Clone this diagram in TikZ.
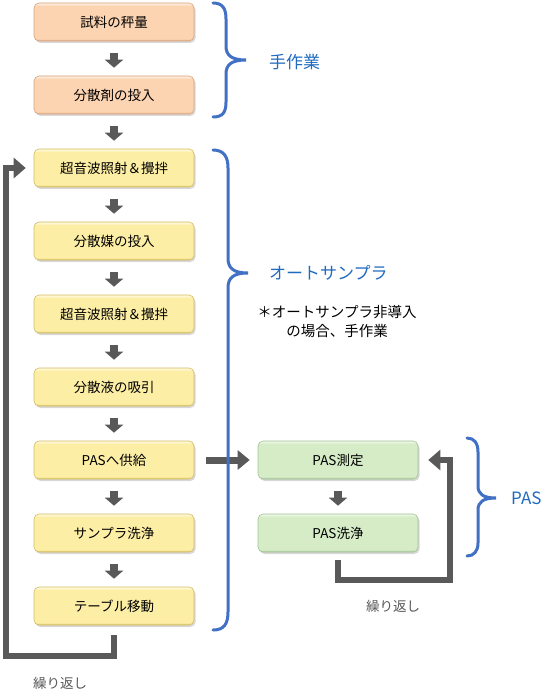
\documentclass[tikz,border=0pt]{standalone}
\usepackage{fontspec}
\setmainfont{Noto Sans CJK JP}
\usetikzlibrary{arrows.meta,shadows}
\definecolor{pkB}{HTML}{FCD4B2}
\definecolor{pkL}{HTML}{FEEADB}
\definecolor{pkD}{HTML}{D9A47C}
\definecolor{ylB}{HTML}{FCEEA4}
\definecolor{ylL}{HTML}{FFF8D6}
\definecolor{ylD}{HTML}{D4BC62}
\definecolor{gnB}{HTML}{D5ECC6}
\definecolor{gnL}{HTML}{EBF6E3}
\definecolor{gnD}{HTML}{A2C293}
\definecolor{arrg}{HTML}{595959}
\definecolor{brB}{HTML}{4170C4}
\definecolor{brT}{HTML}{1F6BC0}
\pgfdeclareverticalshading{pksh}{100bp}{color(0bp)=(pkD); color(25bp)=(pkD); color(28bp)=(pkB); color(71bp)=(pkB); color(74bp)=(pkL); color(100bp)=(pkL)}
\pgfdeclareverticalshading{ylsh}{100bp}{color(0bp)=(ylD); color(25bp)=(ylD); color(28bp)=(ylB); color(71bp)=(ylB); color(74bp)=(ylL); color(100bp)=(ylL)}
\pgfdeclareverticalshading{gnsh}{100bp}{color(0bp)=(gnD); color(25bp)=(gnD); color(28bp)=(gnB); color(71bp)=(gnB); color(74bp)=(gnL); color(100bp)=(gnL)}
\tikzset{
  box/.style={rounded corners=5pt, minimum width=160pt, minimum height=38pt, inner sep=0pt,
    font=\fontsize{13.5}{16}\selectfont, line width=0.6pt,
    drop shadow={shadow xshift=1.5pt, shadow yshift=-2pt, opacity=0.3}},
  pk/.style={box, shading=pksh, draw=pkD},
  yl/.style={box, shading=ylsh, draw=ylD},
  gn/.style={box, shading=gnsh, draw=gnD},
  darr/.style={draw=arrg, line width=8pt, -{Triangle[width=18pt,length=8pt]}},
  harr/.style={draw=arrg, line width=7pt, -{Triangle[width=19pt,length=12pt]}},
  larr/.style={draw=arrg, line width=6pt, line join=miter, -{Triangle[width=20pt,length=12pt]}},
  brace/.style={draw=brB, line width=3pt, line cap=round},
  blab/.style={text=brT, font=\fontsize{17}{20}\selectfont, anchor=west, inner sep=0pt},
  glab/.style={text=arrg, font=\fontsize{13.5}{16}\selectfont, inner sep=0pt},
  note/.style={font=\fontsize{14.5}{19}\selectfont, align=center, inner sep=0pt},
}
\begin{document}
\begin{tikzpicture}[x=1pt,y=-1pt]
\path[use as bounding box, fill=white] (0,0) rectangle (557,700);
% left column
\node[pk] (n1) at (114,22) {試料の秤量};
\node[pk] (n2) at (114,95) {分散剤の投入};
\node[yl] (n3) at (114,168) {超音波照射＆攪拌};
\node[yl] (n4) at (114,241) {分散媒の投入};
\node[yl] (n5) at (114,314) {超音波照射＆攪拌};
\node[yl] (n6) at (114,387) {分散液の吸引};
\node[yl] (n7) at (114,460) {PASへ供給};
\node[yl] (n8) at (114,533) {サンプラ洗浄};
\node[yl] (n9) at (114,606) {テーブル移動};
% right column
\node[gn] (p1) at (338,460) {PAS測定};
\node[gn] (p2) at (338,533) {PAS洗浄};
% down arrows
\foreach \a/\b in {n1/n2,n2/n3,n3/n4,n4/n5,n5/n6,n6/n7,n7/n8,n8/n9,p1/p2}
  \draw[darr] ([yshift=-12pt]\a.south) -- ([yshift=8pt]\b.north);
% to PAS
\draw[harr] ([xshift=12pt]n7.east) -- ([xshift=-8pt]p1.west);
% loops
\coordinate (lc) at (6,656);
\draw[larr] ([yshift=-10pt]n9.south) |- (lc) |- ([xshift=-8pt]n3.west);
\coordinate (rc) at (450,580);
\draw[larr] ([yshift=-8pt]p2.south) |- (rc) |- ([xshift=10pt]p1.east);
\node[glab] (r1) at (60,683) {繰り返し};
\node[glab] (r2) at (393,606) {繰り返し};
% braces
\draw[brace] (213,3) .. controls (223,3) and (226,9) .. (226,19) -- (226,46)
  .. controls (226,55) and (231,60) .. (246,60)
  .. controls (231,60) and (226,65) .. (226,74) -- (226,102)
  .. controls (226,112) and (223,117) .. (213,117);
\draw[brace] (213,150) .. controls (224,150) and (228,157) .. (228,168) -- (228,258)
  .. controls (228,268) and (233,273) .. (248,273)
  .. controls (233,273) and (228,278) .. (228,288) -- (228,612)
  .. controls (228,624) and (224,630) .. (213,630);
\draw[brace] (467,438) .. controls (474,438) and (478,443) .. (478,452) -- (478,486)
  .. controls (478,494) and (483,498) .. (496,498)
  .. controls (483,498) and (478,502) .. (478,510) -- (478,543)
  .. controls (478,551) and (474,556) .. (467,556);
\node[blab] (t1) at (269,62) {手作業};
\node[blab] (t2) at (269,273) {オートサンプラ};
\node[blab] (t3) at (511,498) {PAS};
\node[note] (nt) at (337,322) {＊オートサンプラ非導入\\の場合、手作業};
\end{tikzpicture}
\end{document}
